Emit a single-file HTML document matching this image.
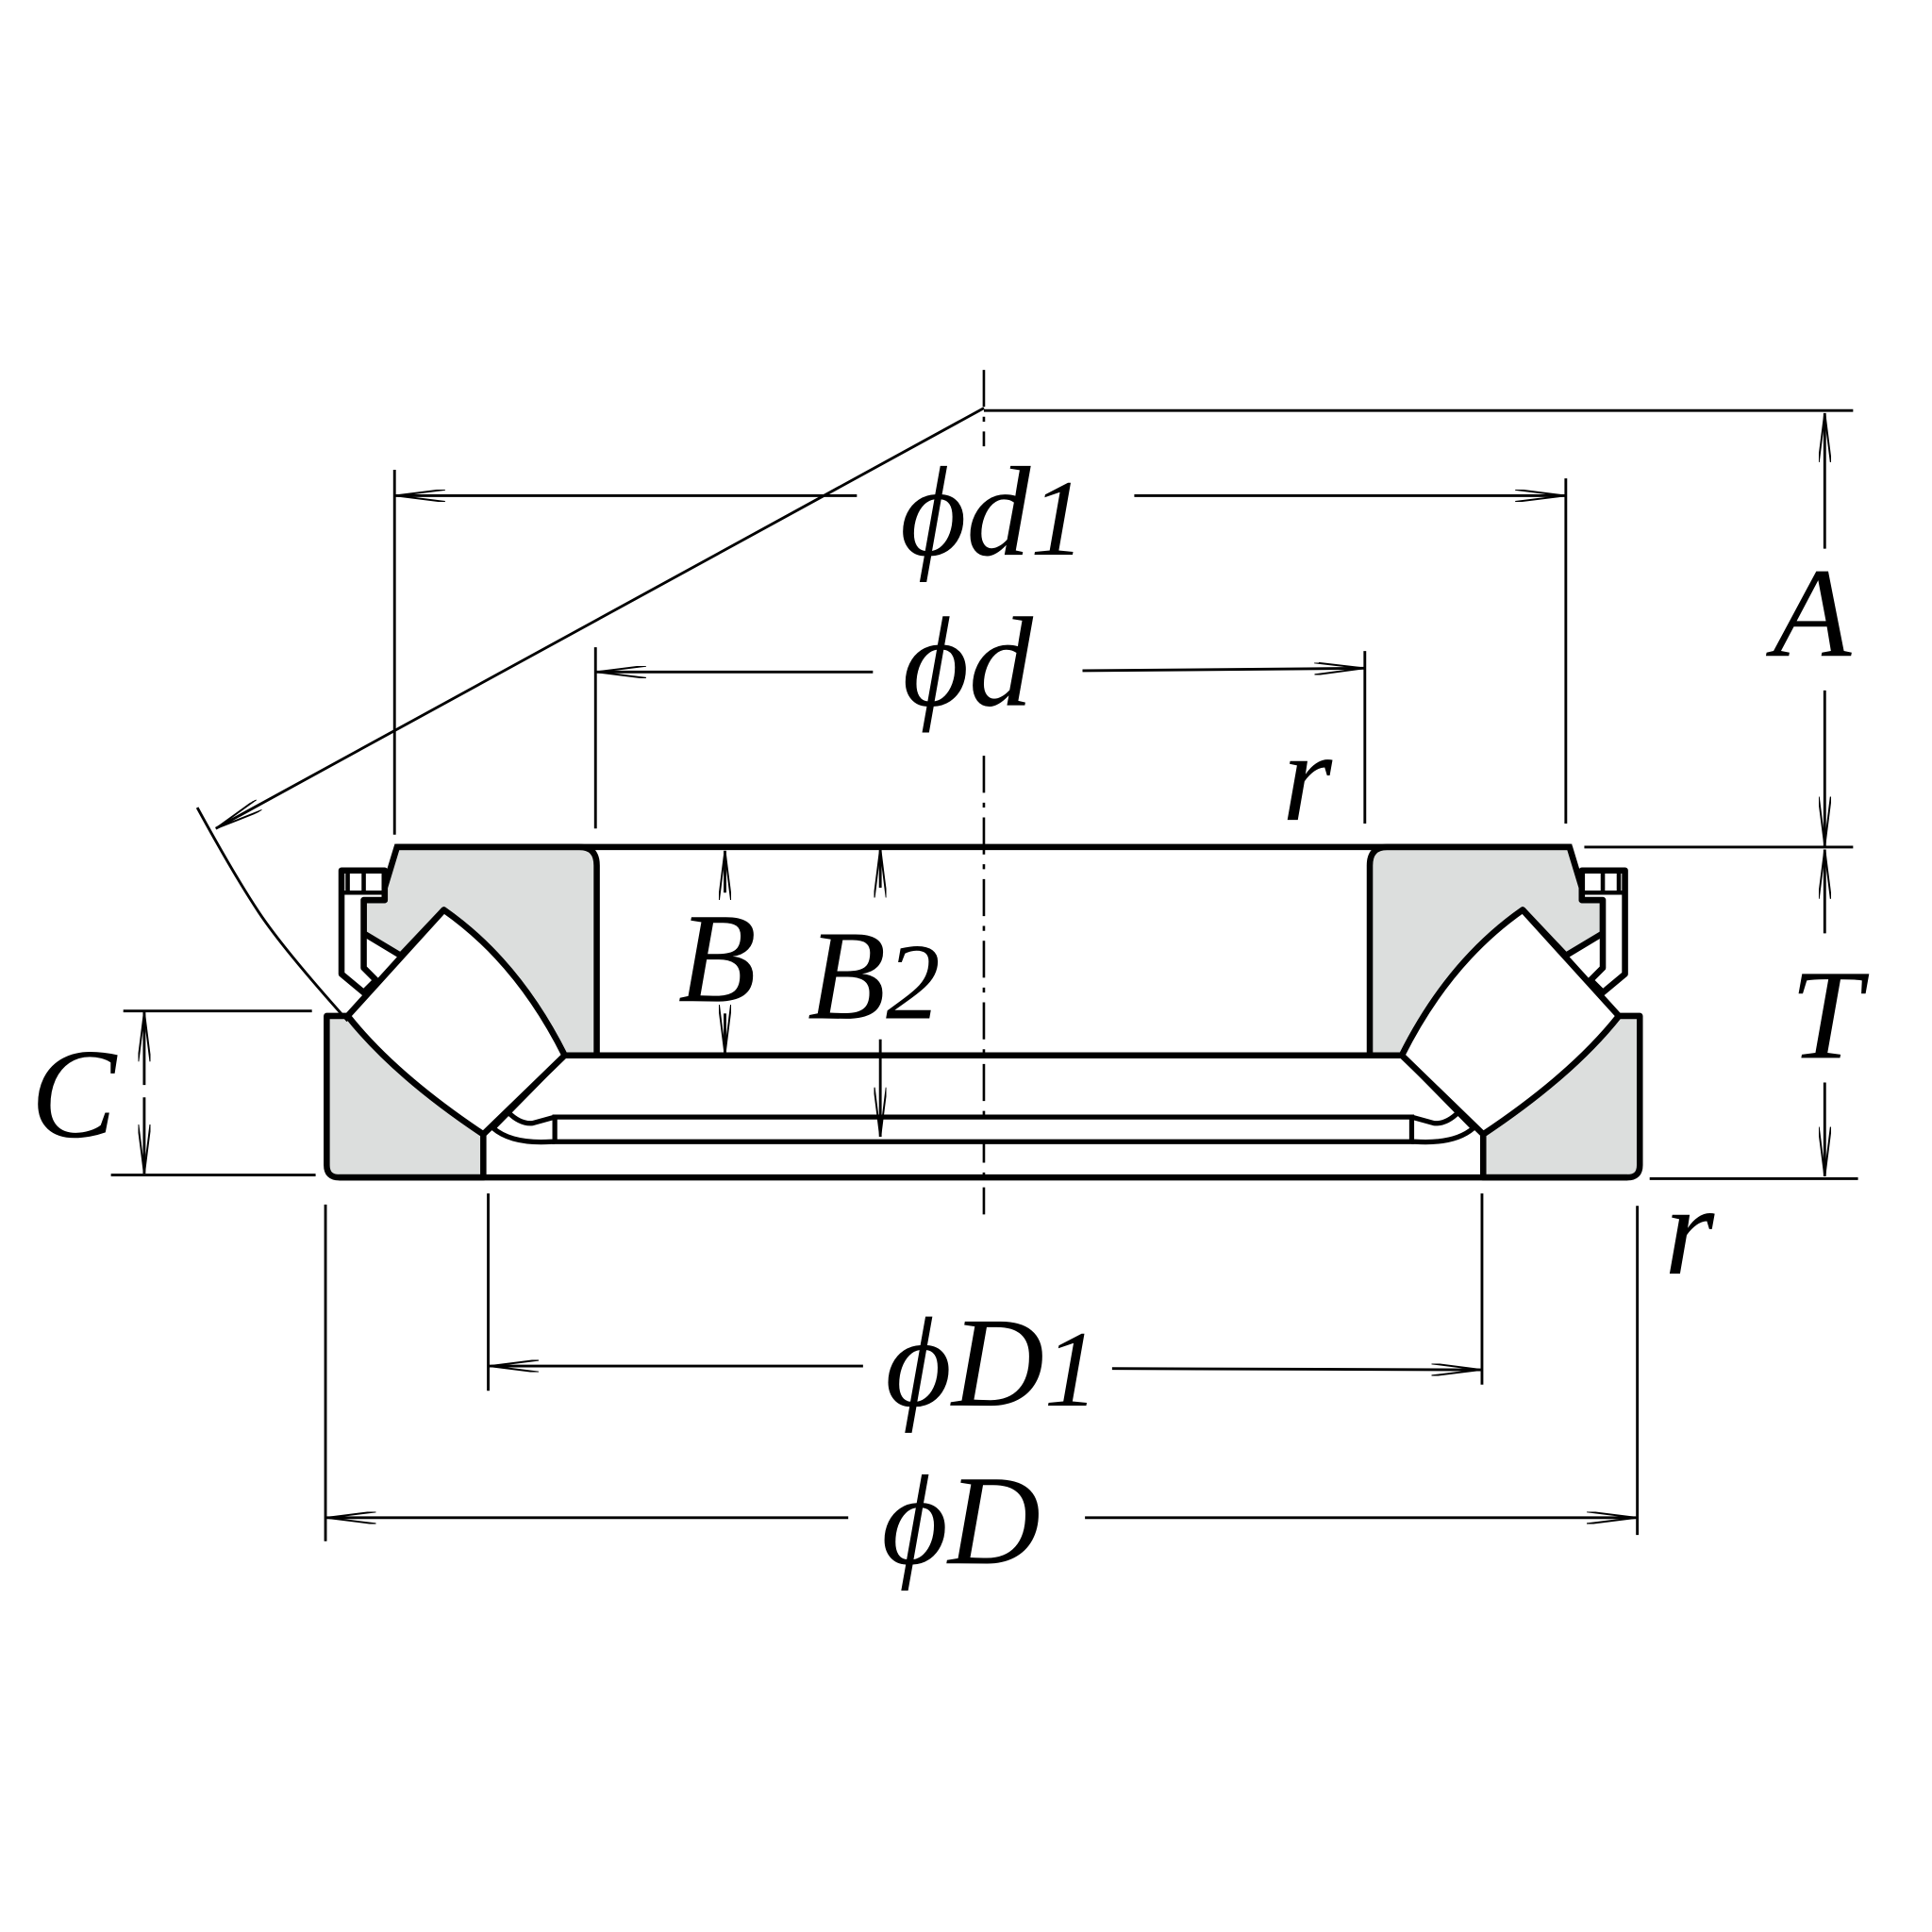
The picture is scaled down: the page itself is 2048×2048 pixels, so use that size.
<!DOCTYPE html>
<html><head><meta charset="utf-8"><style>
html,body{margin:0;padding:0;background:#fff}
svg{display:block}
text{font-family:"Liberation Serif","DejaVu Serif",serif;font-style:italic;fill:#000}
</style></head><body>
<svg width="2048" height="2048" viewBox="0 0 1567 1567" xmlns="http://www.w3.org/2000/svg">
<defs>
<marker id="a" viewBox="0 0 40 10" refX="40" refY="5" markerWidth="40" markerHeight="10" markerUnits="userSpaceOnUse" orient="auto">
<path d="M0,0 L40,5 L0,10" fill="none" stroke="#000" stroke-width="1.5"/>
</marker>
<g id="half" stroke="#000" stroke-width="5" stroke-linejoin="round">
  <path d="M322,687 L470,687 Q484,687 484,702 L484,856 L458,856 Q420,780 360,738 L325,775 L295,757 L295,730 L312,730 L312,720 Z" fill="#dcdedd"/>
  <path d="M312,706 L277,706 L277,790 L295,805 L305,795 L295,785 L295,730 L312,730 Z" fill="#fff"/>
  <path d="M282,706 L282,724 M295,706 L295,724 M277,724 L312,724" fill="none" stroke-width="3.5"/>
  <path d="M282,824 L265,824 L265,945 Q265,955 275,955 L392,955 L392,920 Q320,872 282,824 Z" fill="#dcdedd"/>
  <path d="M282,824 L360,738 Q420,780 458,856 L392,920 Q320,872 282,824 Z" fill="#fff"/>
  <path d="M392,920 L392,955 M458,856 L400,915 Q415,928 447,926 L450,926 M412,902 Q422,912 432,911 L450,906" fill="none" stroke-width="4"/>
</g>
</defs>
<g stroke="#000" stroke-width="2" stroke-dasharray="30,8,4,8">
<line x1="798" y1="300" x2="798" y2="362"/>
<line x1="798" y1="613" x2="798" y2="985"/>
</g>
<use href="#half"/>
<use href="#half" transform="translate(1595,0) scale(-1,1)"/>
<line x1="320" y1="687" x2="1275" y2="687" stroke="#000" stroke-width="5"/>
<line x1="458" y1="856" x2="1137" y2="856" stroke="#000" stroke-width="5"/>
<line x1="275" y1="955" x2="1320" y2="955" stroke="#000" stroke-width="5"/>
<rect x="450" y="906" width="695" height="20" fill="#fff" stroke="#000" stroke-width="4"/>
<g stroke="#000" stroke-width="2.2" fill="none">
  <line x1="798" y1="331" x2="175" y2="672" marker-end="url(#a)"/>
  <path d="M160,655 Q190,710 210,740 Q230,770 282,828"/>
  <line x1="798" y1="333" x2="1503" y2="333"/>
  <line x1="1285" y1="687" x2="1503" y2="687"/>
  <line x1="1338" y1="956" x2="1507" y2="956"/>
  <line x1="1480" y1="445" x2="1480" y2="335" marker-end="url(#a)"/>
  <line x1="1480" y1="560" x2="1480" y2="686" marker-end="url(#a)"/>
  <line x1="1480" y1="757" x2="1480" y2="689" marker-end="url(#a)"/>
  <line x1="1480" y1="878" x2="1480" y2="954" marker-end="url(#a)"/>
  <line x1="320" y1="381" x2="320" y2="677"/>
  <line x1="1270" y1="388" x2="1270" y2="668"/>
  <line x1="695" y1="402" x2="321" y2="402" marker-end="url(#a)"/>
  <line x1="920" y1="402" x2="1269" y2="402" marker-end="url(#a)"/>
  <line x1="483" y1="525" x2="483" y2="672"/>
  <line x1="1107" y1="528" x2="1107" y2="668"/>
  <line x1="708" y1="545" x2="484" y2="545" marker-end="url(#a)"/>
  <line x1="878" y1="544" x2="1106" y2="542" marker-end="url(#a)"/>
  <line x1="588" y1="724" x2="588" y2="690" marker-end="url(#a)"/>
  <line x1="588" y1="822" x2="588" y2="855" marker-end="url(#a)"/>
  <line x1="714" y1="720" x2="714" y2="688" marker-end="url(#a)"/>
  <line x1="714" y1="843" x2="714" y2="922" marker-end="url(#a)"/>
  <line x1="100" y1="820" x2="253" y2="820"/>
  <line x1="90" y1="953" x2="256" y2="953"/>
  <line x1="117" y1="880" x2="117" y2="821" marker-end="url(#a)"/>
  <line x1="117" y1="890" x2="117" y2="952" marker-end="url(#a)"/>
  <line x1="396" y1="968" x2="396" y2="1128"/>
  <line x1="1202" y1="968" x2="1202" y2="1123"/>
  <line x1="700" y1="1108" x2="397" y2="1108" marker-end="url(#a)"/>
  <line x1="902" y1="1110" x2="1201" y2="1111" marker-end="url(#a)"/>
  <line x1="264" y1="977" x2="264" y2="1250"/>
  <line x1="1328" y1="978" x2="1328" y2="1245"/>
  <line x1="688" y1="1231" x2="265" y2="1231" marker-end="url(#a)"/>
  <line x1="880" y1="1231" x2="1327" y2="1231" marker-end="url(#a)"/>
</g>
<g font-size="104">
  <text x="730" y="450">ϕd<tspan font-size="88">1</tspan></text>
  <text x="732" y="572">ϕd</text>
  <text x="1040" y="665">r</text>
  <text x="550" y="812">B</text>
  <text x="655" y="826">B<tspan font-size="88">2</tspan></text>
  <text x="25" y="922">C</text>
  <text x="1438" y="532">A</text>
  <text x="1452" y="858">T</text>
  <text x="718" y="1140">ϕD<tspan font-size="88">1</tspan></text>
  <text x="715" y="1268">ϕD</text>
  <text x="1350" y="1033">r</text>
</g>
</svg>
</body></html>
